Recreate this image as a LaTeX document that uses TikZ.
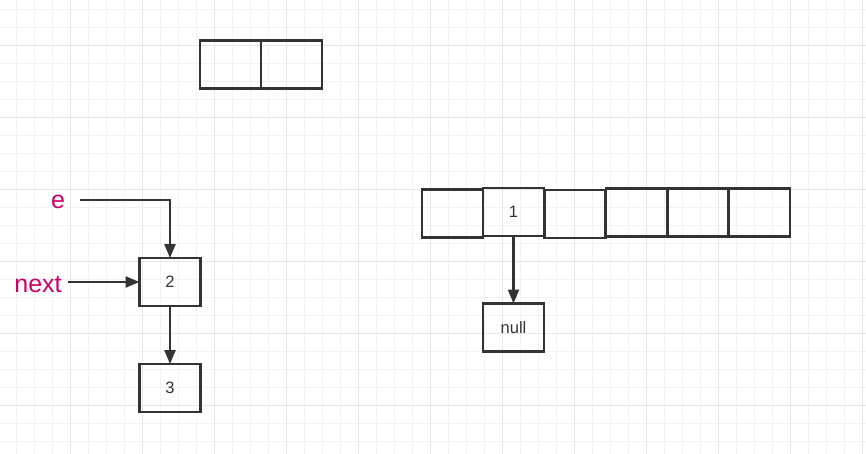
\documentclass[tikz,border=0pt]{standalone}
\usepackage{fontspec}
\setmainfont{Liberation Sans}
\usetikzlibrary{arrows.meta}
\definecolor{ink}{HTML}{333333}
\definecolor{pinklbl}{HTML}{CC0066}
\definecolor{gridminor}{HTML}{F2F2F2}
\definecolor{gridmajor}{HTML}{E6E6E6}
\tikzset{
  cell/.style={draw=ink, line width=2.6pt, minimum width=61pt, minimum height=48pt, inner sep=0pt, outer sep=0pt, text=ink, font=\fontsize{16.5}{19}\selectfont},
  ptr/.style={draw=ink, line width=2.4pt, -{Triangle[length=14pt,width=11pt]}},
  lbl/.style={text=pinklbl, font=\fontsize{25}{30}\selectfont, inner sep=0pt, anchor=base}
}
\begin{document}
\begin{tikzpicture}[x=1pt,y=-1pt]
\useasboundingbox (0,0) rectangle (866,454);
\fill[white] (0,0) rectangle (866,454);
% grid
\foreach \i in {0,...,47} {\draw[gridminor, line width=0.8pt] ({16.3+18*\i},0) -- ({16.3+18*\i},454);}
\foreach \j in {0,...,25} {\draw[gridminor, line width=0.8pt] (0,{9.3+18*\j}) -- (866,{9.3+18*\j});}
\foreach \i in {0,...,11} {\draw[gridmajor, line width=0.8pt] ({70.3+72*\i},0) -- ({70.3+72*\i},454);}
\foreach \j in {0,...,5} {\draw[gridmajor, line width=0.8pt] (0,{45.3+72*\j}) -- (866,{45.3+72*\j});}
% top pair
\node[cell] (ta) at (230.5,64.5) {};
\node[cell] (tb) at (291.5,64.5) {};
% left chain
\node[cell] (n2) at (170,282) {2};
\node[cell] (n3) at (170,388) {3};
\node[lbl] (e) at (58,209) {e};
\node[lbl] (nx) at (38,292) {next};
\coordinate (es) at (80,200);
\coordinate (nxs) at (68,282);
\draw[ptr] (es) -| (n2.north);
\draw[ptr] (nxs) -- (n2.west);
\draw[ptr] (n2.south) -- (n3.north);
% array
\node[cell] (a1) at (452.5,213.5) {};
\node[cell] (a2) at (513.5,212) {1};
\node[cell] (a3) at (575,214) {};
\node[cell] (a4) at (636.5,212.5) {};
\node[cell] (a5) at (698,212.5) {};
\node[cell] (a6) at (759.5,212.5) {};
\node[cell] (nl) at (513.5,327.5) {null};
\draw[ptr] (a2.south) -- (nl.north);
\end{tikzpicture}
\end{document}
